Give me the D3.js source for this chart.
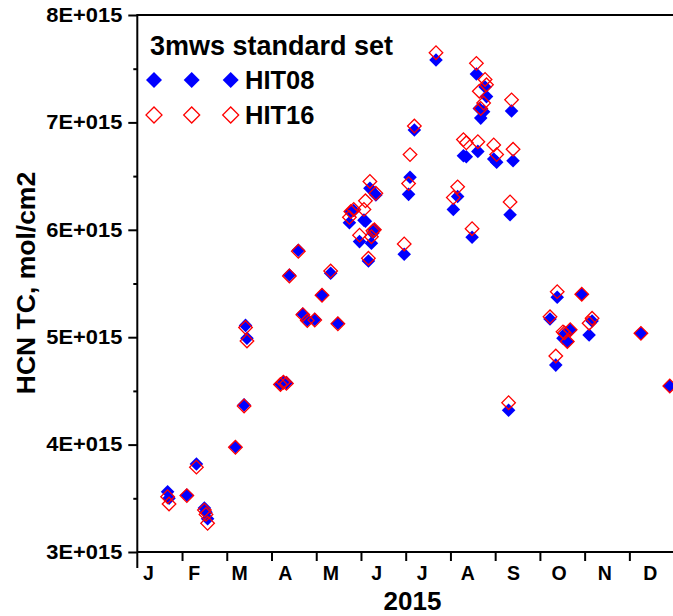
<!DOCTYPE html>
<html>
<head>
<meta charset="utf-8">
<script src="https://cdn.jsdelivr.net/npm/d3@7/dist/d3.min.js"></script>
<style>
  html, body { margin: 0; padding: 0; background: #fff; }
  svg { display: block; font-family: "Liberation Sans", Arial, sans-serif; font-weight: bold; }
</style>
</head>
<body>
<svg id="chart" width="673" height="616"></svg>
<script>
// Observation dates (2015) and total columns of HCN, in units of 1E+15 mol/cm2
const dates = [
  "2015-01-22","2015-01-23","2015-02-04","2015-02-10","2015-02-15","2015-02-16","2015-02-17",
  "2015-03-07","2015-03-13","2015-03-14","2015-03-15","2015-04-07","2015-04-09","2015-04-11",
  "2015-04-13","2015-04-19","2015-04-22","2015-04-25","2015-04-30","2015-05-05","2015-05-11",
  "2015-05-16","2015-05-24","2015-05-25","2015-05-27","2015-05-31","2015-06-03","2015-06-04",
  "2015-06-06","2015-06-07","2015-06-08","2015-06-09","2015-06-10","2015-06-11","2015-06-30",
  "2015-07-03","2015-07-04","2015-07-07","2015-07-22","2015-08-03","2015-08-06","2015-08-10",
  "2015-08-12","2015-08-16","2015-08-19","2015-08-20","2015-08-21","2015-08-22","2015-08-24",
  "2015-08-25","2015-08-26","2015-08-31","2015-09-02","2015-09-10","2015-09-11","2015-09-12",
  "2015-09-13","2015-10-08","2015-10-12","2015-10-13","2015-10-17","2015-10-18","2015-10-20",
  "2015-10-22","2015-10-30","2015-11-04","2015-11-06","2015-12-09","2015-12-29"
];
const hit08 = [
  3.56,3.50,3.53,3.82,3.41,3.37,3.31,
  3.98,4.37,5.11,4.99,4.565,4.586,4.577,
  5.58,5.81,5.216,5.16,5.166,5.393,5.595,
  5.13,6.066,6.17,6.18,5.89,6.09,6.08,
  5.71,6.386,5.874,5.97,6.00,6.324,5.772,
  6.33,6.49,6.93,7.581,6.19,6.31,6.69,
  6.68,5.93,7.45,6.73,7.13,7.04,7.10,
  7.33,7.24,6.66,6.63,4.32,6.14,7.106,
  6.643,5.17,4.74,5.372,4.99,5.027,4.958,
  5.067,5.40,5.02,5.15,5.036,4.546
];
const hit16 = [
  3.515,3.447,3.525,3.79,3.39,3.35,3.267,
  3.975,4.36,5.09,4.965,4.56,4.58,4.57,
  5.57,5.80,5.21,5.155,5.16,5.39,5.616,
  5.125,6.116,6.17,6.19,5.95,6.19,6.27,
  5.735,6.45,5.936,5.99,6.00,6.34,5.868,
  6.43,6.70,6.966,7.649,6.30,6.40,6.84,
  6.81,6.01,7.55,6.82,7.29,7.13,7.18,
  7.40,7.35,6.79,6.70,4.39,6.26,7.21,
  6.75,5.19,4.825,5.424,5.05,5.04,4.96,
  5.07,5.40,5.13,5.176,5.036,4.546
];
const monthLabels = ["J","F","M","A","M","J","J","A","S","O","N","D"];
const yTicks = [3, 4, 5, 6, 7, 8];
const yMinorTicks = [3.5, 4.5, 5.5, 6.5, 7.5];
const seriesNames = ["HIT08", "HIT16"];
const legendTitle = "3mws standard set";
const yTitle = "HCN TC, mol/cm2";
const xTitle = "2015";
const SCALE = 1e15;

// Date -> fractional month index (months drawn with equal width)
function monthPos(s) {
  const d = d3.timeParse("%Y-%m-%d")(s);
  const m = d.getMonth();
  const days = new Date(d.getFullYear(), m + 1, 0).getDate();
  return m + (d.getDate() - 1) / days;
}

const svg = d3.select("#chart");
const plotLeft = 137.3, plotRight = 674.1, plotTop = 15, plotBottom = 552;

const x = d3.scaleLinear().domain([0, 12]).range([plotLeft, plotRight]);
const y = d3.scaleLinear().domain([3 * SCALE, 8 * SCALE]).range([plotBottom, plotTop]);

svg.append("rect").attr("width", 673).attr("height", 616).attr("fill", "#fff");

// frame: top border
svg.append("line").attr("x1", plotLeft).attr("x2", 673).attr("y1", plotTop).attr("y2", plotTop)
  .attr("stroke", "#000").attr("stroke-width", 2);

// y axis with major and minor ticks
const yAxis = svg.append("g").attr("transform", `translate(${plotLeft},0)`)
  .call(d3.axisLeft(y).tickValues(yTicks.map(v => v * SCALE)).tickSize(9).tickPadding(6)
    .tickFormat(v => `${Math.round(v / SCALE)}E+015`));
yAxis.select(".domain").remove();
yAxis.selectAll(".tick line").attr("stroke", "#000").attr("stroke-width", 2);
yAxis.selectAll(".tick text").attr("font-size", 19.5).attr("font-weight", "bold")
  .attr("font-family", "Liberation Sans, Arial, sans-serif").attr("fill", "#000")
  .attr("textLength", 76).attr("lengthAdjust", "spacingAndGlyphs");
const yMinor = svg.append("g").attr("transform", `translate(${plotLeft},0)`)
  .call(d3.axisLeft(y).tickValues(yMinorTicks.map(v => v * SCALE)).tickSize(4).tickFormat(""));
yMinor.select(".domain").remove();
yMinor.selectAll(".tick line").attr("stroke", "#000").attr("stroke-width", 2);
svg.append("line").attr("x1", plotLeft).attr("x2", plotLeft).attr("y1", plotTop - 1).attr("y2", plotBottom + 16)
  .attr("stroke", "#000").attr("stroke-width", 2);

// x axis: month ticks, letters placed inside each month
const xAxis = svg.append("g").attr("transform", `translate(0,${plotBottom})`)
  .call(d3.axisBottom(x).tickValues(d3.range(1, 12)).tickSize(9).tickFormat(""));
xAxis.select(".domain").remove();
xAxis.selectAll(".tick line").attr("stroke", "#000").attr("stroke-width", 2);
svg.append("line").attr("x1", plotLeft).attr("x2", 673).attr("y1", plotBottom).attr("y2", plotBottom)
  .attr("stroke", "#000").attr("stroke-width", 2);
svg.append("g").selectAll("text").data(monthLabels).join("text")
  .attr("x", (d, i) => x(i + 0.25 + i * 0.02))
  .attr("y", 580)
  .attr("text-anchor", "middle").attr("font-size", 19.5).attr("fill", "#000")
  .text(d => d);

svg.append("text").attr("x", 412.5).attr("y", 610).attr("text-anchor", "middle")
  .attr("font-size", 26).attr("fill", "#000").text(xTitle);
svg.append("text").attr("transform", "translate(35,283) rotate(-90)").attr("text-anchor", "middle")
  .attr("font-size", 26.5).attr("fill", "#000").text(yTitle);

// data markers: squares turned 45 degrees
const plot = svg.append("g");
const diamondSmall = d3.symbol().type(d3.symbolSquare).size(92);
const pts = dates.map((d, i) => ({ m: monthPos(d), a: hit08[i] * SCALE, b: hit16[i] * SCALE }));

plot.selectAll("path.hit08").data(pts).join("path").attr("class", "hit08")
  .attr("d", diamondSmall)
  .attr("transform", d => `translate(${x(d.m)},${y(d.a)}) rotate(45)`)
  .attr("fill", "#0000ff");
plot.selectAll("path.hit16").data(pts).join("path").attr("class", "hit16")
  .attr("d", diamondSmall)
  .attr("transform", d => `translate(${x(d.m)},${y(d.b)}) rotate(45)`)
  .attr("fill", "none").attr("stroke", "#ff0000").attr("stroke-width", 1.3);

// legend
const leg = svg.append("g");
leg.append("text").attr("x", 150).attr("y", 55).attr("font-size", 27).attr("fill", "#000").text(legendTitle);
const diamondLegend = d3.symbol().type(d3.symbolSquare).size(128);
const legX = [154, 191.7, 230.7];
seriesNames.forEach((name, k) => {
  const cy = 80 + k * 35;
  leg.selectAll(null).data(legX).join("path")
    .attr("d", diamondLegend)
    .attr("transform", d => `translate(${d},${cy}) rotate(45)`)
    .attr("fill", k === 0 ? "#0000ff" : "none")
    .attr("stroke", k === 0 ? "none" : "#ff0000")
    .attr("stroke-width", 1.3);
  leg.append("text").attr("x", 245).attr("y", cy + 8.5).attr("font-size", 25.5).attr("fill", "#000").text(name);
});
</script>
</body>
</html>
